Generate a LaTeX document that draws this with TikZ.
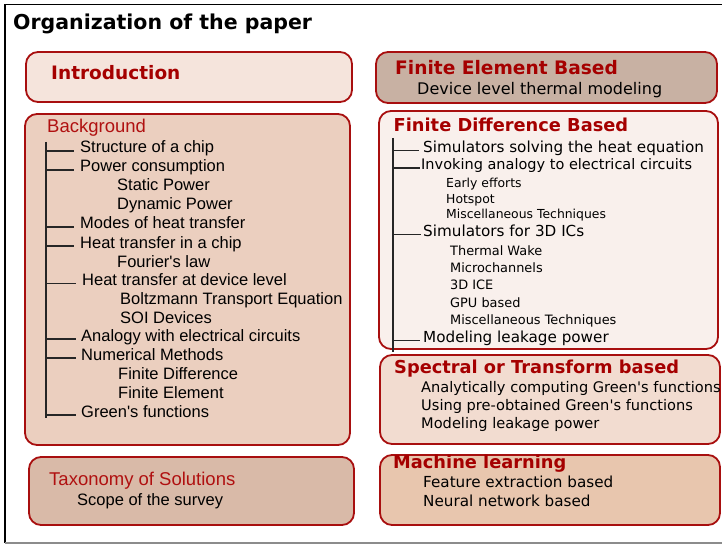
\documentclass[tikz,border=0pt]{standalone}
\usepackage{fontspec}
\setmainfont{DejaVu Sans}
\newfontfamily\arialfont{Liberation Sans}
\definecolor{framered}{HTML}{A80F0F}
\definecolor{headred}{HTML}{A50000}
\definecolor{lheadred}{HTML}{B01010}
\definecolor{introfill}{HTML}{F5E4DC}
\definecolor{bgfill}{HTML}{EBCFBF}
\definecolor{taxfill}{HTML}{D9BAA8}
\definecolor{fefill}{HTML}{C8B1A3}
\definecolor{fdfill}{HTML}{F9F0EC}
\definecolor{spfill}{HTML}{F2DCD0}
\definecolor{mlfill}{HTML}{E8C6AE}

\begin{document}
\begin{tikzpicture}[x=1pt,y=-1pt,
    panel/.style={draw=framered, line width=1.8pt, rounded corners=12pt},
    txt/.style={anchor=base west, inner sep=0pt},
    lhead/.style={txt, text=lheadred, font=\arialfont\fontsize{18.5}{22}\selectfont},
    litem/.style={txt, font=\arialfont\fontsize{16.5}{20}\selectfont},
    rhead/.style={txt, text=headred, font=\bfseries\fontsize{17.8}{21}\selectfont},
    ritem/.style={txt, font=\fontsize{15.2}{18}\selectfont},
    rsub/.style={txt, font=\fontsize{12.9}{15}\selectfont},
    branch/.style={line width=1.2pt, black!85}]
\useasboundingbox (0,0) rectangle (722,545);

% outer frame
\draw[line width=1.2pt] (5,543) -- (5,4.3) -- (722,4.3);
\draw[line width=1.2pt, black!45] (5,543) -- (722,543);

\node[txt, font=\bfseries\fontsize{20.5}{24}\selectfont] (title) at (13,29.3) {Organization of the paper};

% left column
\draw[panel, fill=introfill] (26,52) rectangle (352,102);
\draw[panel, fill=bgfill] (25,114) rectangle (350,445);
\draw[panel, fill=taxfill] (29,457) rectangle (354,525);

\node[rhead, font=\bfseries\fontsize{18.5}{22}\selectfont] (intro) at (51,80) {Introduction};

\node[lhead] (bg) at (47,132.7) {Background};
\node[litem] (bg1) at (80,153) {Structure of a chip};
\node[litem] (bg2) at (80,172) {Power consumption};
\node[litem] (bg2a) at (117,191) {Static Power};
\node[litem] (bg2b) at (117,210) {Dynamic Power};
\node[litem] (bg3) at (80,229) {Modes of heat transfer};
\node[litem] (bg4) at (80,248) {Heat transfer in a chip};
\node[litem] (bg4a) at (117,267) {Fourier\textquotesingle s law};
\node[litem] (bg5) at (82,285.5) {Heat transfer at device level};
\node[litem] (bg5a) at (120,304) {Boltzmann Transport Equation};
\node[litem] (bg5b) at (120,323) {SOI Devices};
\node[litem] (bg6) at (81,341) {Analogy with electrical circuits};
\node[litem] (bg7) at (81,360) {Numerical Methods};
\node[litem] (bg7a) at (118,379) {Finite Difference};
\node[litem] (bg7b) at (118,398) {Finite Element};
\node[litem] (bg8) at (81,417) {Green\textquotesingle s functions};

\coordinate (bgtop) at (46,142);
\coordinate (bgbot) at (46,417.5);
\draw[branch] (bgtop) -- (bgbot);
\draw[branch] ([yshift=2pt]bgtop |- bg1.base) -- ([xshift=-6pt,yshift=2pt]bg1.base west);
\draw[branch] ([yshift=2pt]bgtop |- bg2.base) -- ([xshift=-6pt,yshift=2pt]bg2.base west);
\draw[branch] ([yshift=2pt]bgtop |- bg3.base) -- ([xshift=-6pt,yshift=2pt]bg3.base west);
\draw[branch] ([yshift=2pt]bgtop |- bg4.base) -- ([xshift=-6pt,yshift=2pt]bg4.base west);
\draw[branch] ([yshift=2pt]bgtop |- bg5.base) -- ([xshift=-6pt,yshift=2pt]bg5.base west);
\draw[branch] ([yshift=2pt]bgtop |- bg6.base) -- ([xshift=-5pt,yshift=2pt]bg6.base west);
\draw[branch] ([yshift=2pt]bgtop |- bg7.base) -- ([xshift=-5pt,yshift=2pt]bg7.base west);
\draw[branch] ([yshift=2pt]bgtop |- bg8.base) -- ([xshift=-5pt,yshift=2pt]bg8.base west);

\node[lhead] (tax) at (49,485) {Taxonomy of Solutions};
\node[litem] (taxsub) at (77,505) {Scope of the survey};

% right column
\draw[panel, fill=fefill] (376,52) rectangle (717,103);
\draw[panel, fill=fdfill] (379,111) rectangle (718,349);
\draw[panel, fill=spfill] (380,355) rectangle (720,444);
\draw[panel, fill=mlfill] (380,455) rectangle (720,525);

\node[rhead, font=\bfseries\fontsize{18.6}{22}\selectfont] (fe) at (395,75) {Finite Element Based};
\node[ritem, font=\fontsize{16}{19}\selectfont] (fesub) at (417,94.3) {Device level thermal modeling};

\node[rhead] (fd) at (393.5,131.7) {Finite Difference Based};
\node[ritem] (fd1) at (423,152.3) {Simulators solving the heat equation};
\node[ritem, font=\fontsize{14.5}{17}\selectfont] (fd2) at (421,170) {Invoking analogy to electrical circuits};
\node[rsub, font=\fontsize{12.4}{15}\selectfont] (fd2a) at (446,187.3) {Early efforts};
\node[rsub, font=\fontsize{12.4}{15}\selectfont] (fd2b) at (446,203.3) {Hotspot};
\node[rsub, font=\fontsize{12.4}{15}\selectfont] (fd2c) at (446,219) {Miscellaneous Techniques};
\node[ritem] (fd3) at (423,236.7) {Simulators for 3D ICs};
\node[rsub] (fd3a) at (450,255.3) {Thermal Wake};
\node[rsub] (fd3b) at (450,272) {Microchannels};
\node[rsub] (fd3c) at (450,289.7) {3D ICE};
\node[rsub] (fd3d) at (450,307) {GPU based};
\node[rsub] (fd3e) at (450,324) {Miscellaneous Techniques};
\node[ritem] (fd4) at (423,342.3) {Modeling leakage power};

\coordinate (fdtop) at (393,138);
\coordinate (fdbot) at (393,352);
\draw[branch] (fdtop) -- (fdbot);
\draw[branch] ([yshift=2pt]fdtop |- fd1.base) -- ([xshift=-4pt,yshift=2pt]fd1.base west);
\draw[branch] ([yshift=2pt]fdtop |- fd2.base) -- ([xshift=-1.5pt,yshift=2pt]fd2.base west);
\draw[branch] ([yshift=2pt]fdtop |- fd3.base) -- ([xshift=-2pt,yshift=2pt]fd3.base west);
\draw[branch] ([yshift=2pt]fdtop |- fd4.base) -- ([xshift=-3pt,yshift=2pt]fd4.base west);

\node[rhead] (sp) at (394,373.3) {Spectral or Transform based};
\node[ritem, font=\fontsize{14.6}{17}\selectfont] (sp1) at (421,392.3) {Analytically computing Green\textquotesingle s functions};
\node[ritem, font=\fontsize{14.6}{17}\selectfont] (sp2) at (421,410) {Using pre-obtained Green\textquotesingle s functions};
\node[ritem, font=\fontsize{14.6}{17}\selectfont] (sp3) at (421,428.7) {Modeling leakage power};

\node[rhead] (ml) at (393,468.3) {Machine learning};
\node[ritem] (ml1) at (423,487.7) {Feature extraction based};
\node[ritem] (ml2) at (423,506.7) {Neural network based};
\end{tikzpicture}
\end{document}
